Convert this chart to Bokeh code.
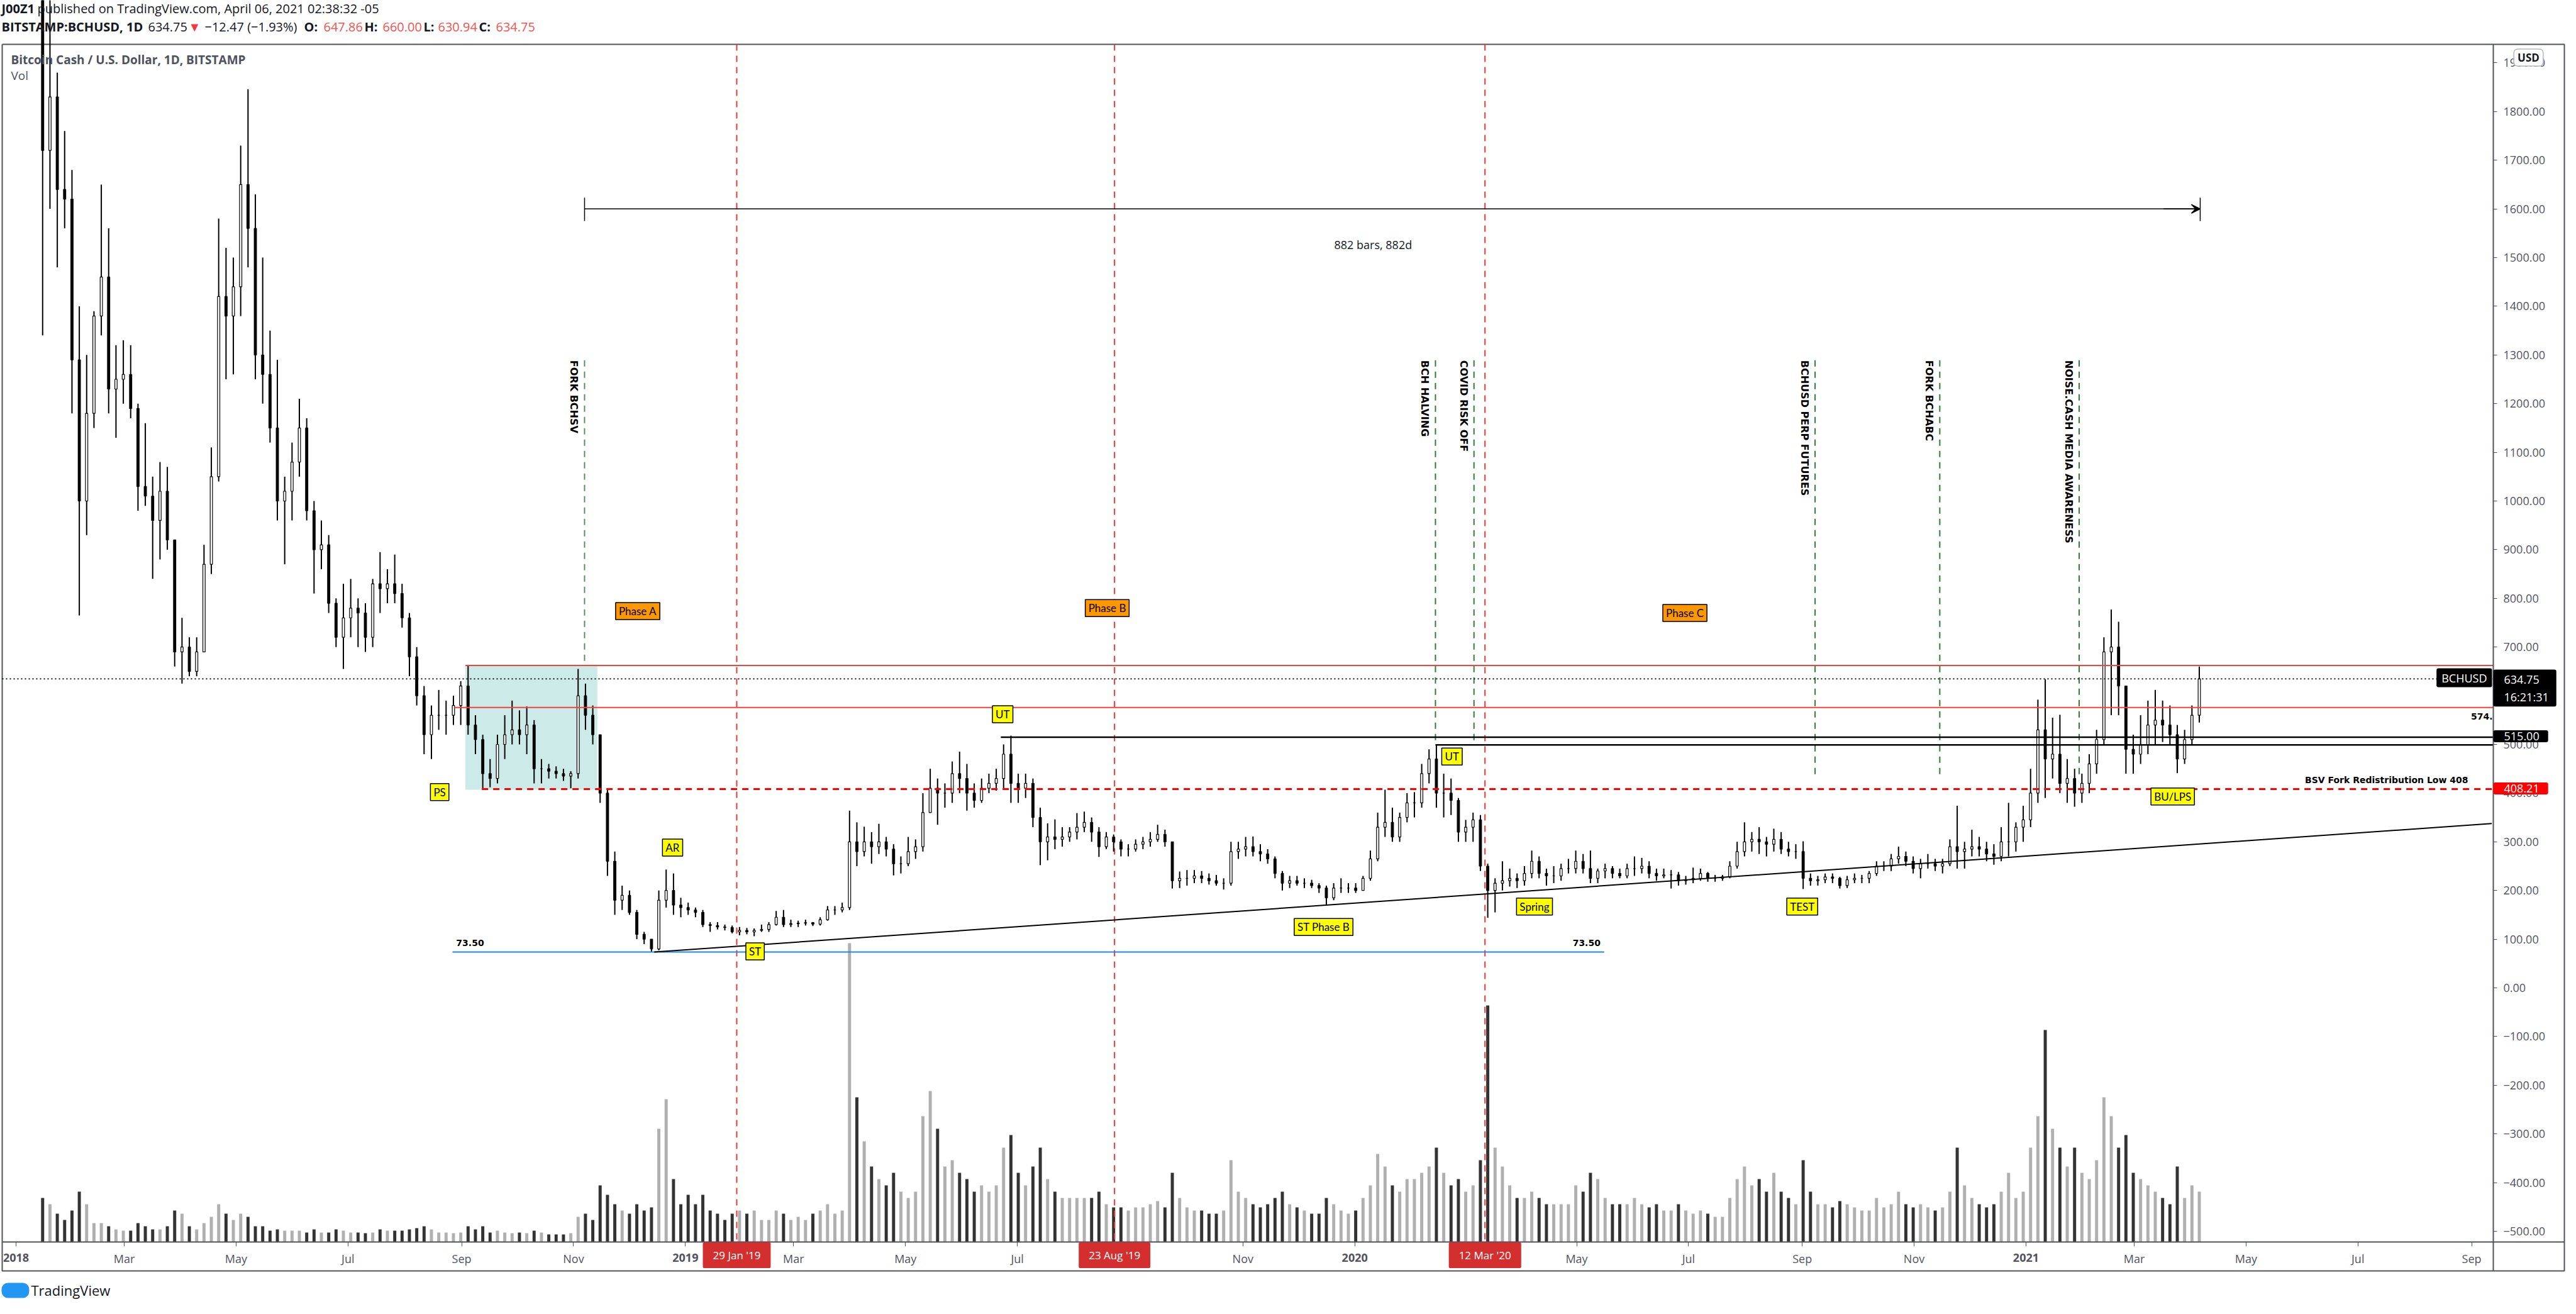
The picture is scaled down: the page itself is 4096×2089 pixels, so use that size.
import numpy as np
import pandas as pd
from bokeh.plotting import figure
from bokeh.models import (Range1d, LinearAxis, FixedTicker, CustomJSTickFormatter,
                          ColumnDataSource, Label, Arrow, VeeHead)
from bokeh.embed import file_html
from bokeh.resources import INLINE

# ---------------------------------------------------------------- data
candle_start = "2018-01-14"      # first 4-day candle (BITSTAMP:BCHUSD)
candle_days = 4
first_open = 2650.0

high = [
    2720, 2050, 1880, 1760, 1680, 1400, 1300, 1390, 1650, 1560,
    1320, 1330, 1320, 1200, 1160, 1050, 1080, 1070, 920, 760,
    720, 720, 910, 1110, 1580, 1520, 1500, 1730, 1846, 1630,
    1500, 1350, 1290, 1050, 1120, 1210, 1170, 1000, 960, 930,
    800, 830, 840, 800, 790, 840, 895, 860, 890, 830,
    770, 700, 620, 580, 612, 590, 600, 630, 663, 560,
    520, 470, 520, 560, 590, 570, 578, 550, 470, 460,
    455, 450, 445, 655, 625, 580, 520, 410, 280, 210,
    200, 160, 115, 100, 200, 243, 235, 185, 175, 165,
    160, 135, 135, 130, 128, 125, 123, 122, 130, 135,
    158, 160, 140, 138, 140, 135, 145, 168, 168, 175,
    364, 340, 331, 320, 337, 310, 295, 270, 310, 305,
    400, 450, 430, 420, 465, 485, 460, 420, 430, 440,
    450, 500, 518, 440, 440, 430, 370, 338, 346, 330,
    330, 359, 362, 350, 330, 320, 315, 305, 295, 305,
    310, 320, 335, 325, 300, 239, 242, 242, 240, 235,
    232, 225, 300, 300, 310, 311, 295, 285, 270, 240,
    230, 230, 225, 222, 215, 210, 215, 225, 215, 215,
    230, 282, 360, 407, 370, 360, 400, 402, 460, 490,
    499, 440, 430, 390, 345, 360, 355, 255, 225, 260,
    245, 235, 250, 282, 270, 245, 250, 255, 265, 282,
    275, 282, 245, 255, 250, 245, 255, 270, 267, 260,
    245, 245, 242, 238, 230, 247, 245, 238, 232, 232,
    260, 300, 340, 320, 330, 310, 327, 320, 300, 295,
    301, 235, 230, 235, 235, 228, 230, 235, 232, 240,
    260, 260, 275, 290, 280, 270, 265, 275, 265, 265,
    305, 374, 300, 325, 310, 300, 295, 330, 380, 340,
    374, 450, 592, 634, 555, 561, 470, 450, 440, 480,
    530, 720, 777, 752, 620, 520, 560, 590, 612, 590,
    580, 540, 530, 580, 660]

low = [
    1340, 1600, 1480, 1560, 1180, 765, 930, 1150, 1340, 1180,
    1130, 1200, 1170, 980, 990, 840, 880, 900, 660, 625,
    640, 640, 690, 850, 1040, 1250, 1260, 1380, 1480, 1250,
    1200, 1120, 960, 870, 960, 1050, 960, 810, 860, 770,
    700, 655, 720, 700, 690, 700, 770, 790, 790, 740,
    640, 580, 480, 470, 530, 520, 540, 540, 520, 480,
    410, 412, 420, 470, 500, 500, 480, 420, 420, 430,
    430, 425, 410, 430, 530, 500, 380, 230, 150, 160,
    150, 100, 90, 73.5, 77, 165, 150, 145, 150, 145,
    125, 115, 120, 118, 112, 108, 110, 106, 115, 115,
    128, 125, 125, 125, 128, 127, 128, 138, 150, 155,
    160, 250, 270, 255, 275, 270, 231, 235, 250, 265,
    280, 360, 335, 370, 380, 400, 364, 370, 380, 400,
    405, 410, 380, 380, 390, 330, 252, 262, 285, 290,
    300, 305, 320, 300, 269, 285, 280, 270, 270, 280,
    285, 290, 300, 290, 204, 205, 210, 215, 215, 212,
    210, 202, 210, 265, 270, 270, 260, 255, 225, 200,
    205, 210, 205, 205, 195, 170, 180, 195, 195, 195,
    200, 220, 260, 310, 300, 300, 340, 350, 370, 420,
    370, 350, 355, 300, 300, 300, 240, 144, 155, 200,
    208, 205, 210, 225, 225, 210, 215, 220, 235, 235,
    235, 215, 215, 225, 225, 225, 225, 230, 235, 225,
    220, 225, 204, 210, 212, 215, 220, 218, 218, 220,
    225, 245, 270, 280, 275, 270, 280, 275, 270, 265,
    203, 210, 210, 215, 215, 204, 205, 215, 215, 215,
    230, 240, 240, 255, 250, 235, 225, 245, 240, 235,
    250, 245, 245, 270, 270, 260, 253, 260, 270, 280,
    300, 330, 380, 390, 430, 400, 380, 372, 380, 400,
    440, 500, 560, 560, 440, 440, 460, 480, 500, 505,
    500, 441, 460, 500, 545]

close = [
    1720, 1830, 1640, 1620, 1290, 1000, 1180, 1380, 1460, 1230,
    1250, 1260, 1190, 1030, 1010, 960, 1020, 920, 690, 700,
    650, 690, 870, 1050, 1420, 1380, 1440, 1650, 1560, 1300,
    1260, 1150, 1000, 1020, 1080, 1150, 980, 900, 910, 790,
    720, 760, 780, 770, 720, 830, 820, 830, 810, 760,
    680, 600, 520, 560, 560, 560, 580, 620, 540, 510,
    440, 430, 500, 520, 530, 520, 540, 450, 450, 445,
    440, 435, 440, 600, 560, 520, 400, 260, 180, 190,
    155, 110, 100, 80, 180, 200, 170, 165, 160, 155,
    130, 128, 125, 124, 115, 118, 115, 118, 120, 130,
    145, 130, 132, 133, 134, 131, 140, 160, 160, 165,
    300, 280, 300, 290, 300, 285, 255, 255, 280, 290,
    360, 410, 400, 400, 440, 430, 400, 385, 410, 420,
    430, 480, 420, 410, 420, 350, 300, 310, 305, 310,
    320, 330, 340, 320, 290, 310, 300, 285, 285, 295,
    300, 305, 315, 300, 220, 225, 225, 230, 225, 220,
    215, 215, 280, 285, 290, 280, 275, 265, 235, 215,
    220, 215, 215, 210, 205, 185, 205, 205, 205, 200,
    225, 265, 330, 340, 310, 350, 380, 380, 440, 470,
    400, 400, 385, 320, 330, 345, 250, 200, 215, 220,
    225, 220, 235, 260, 235, 230, 230, 245, 245, 260,
    245, 225, 240, 245, 235, 230, 245, 245, 250, 235,
    230, 232, 232, 220, 222, 225, 235, 225, 225, 228,
    250, 280, 300, 305, 300, 295, 305, 285, 280, 280,
    225, 220, 222, 228, 225, 210, 222, 225, 225, 235,
    250, 250, 265, 270, 260, 245, 255, 255, 250, 255,
    290, 280, 285, 290, 285, 275, 270, 300, 300, 330,
    345, 400, 530, 470, 480, 420, 430, 400, 420, 460,
    510, 690, 700, 620, 490, 480, 500, 540, 550, 540,
    520, 470, 510, 560, 634.75]

volume = (
    [70, 60, 45, 35, 50] + [80, 60, 30, 30, 25, 20, 18] + [18, 30, 25, 20, 20, 25, 50, 45]
    + [25, 20, 30, 40, 60, 45, 35] + [45, 40, 25, 25, 18, 20, 18, 18] + [18, 15, 20, 15, 15, 20, 18]
    + [15, 15, 14, 15, 20, 18, 18] + [18, 20, 22, 25, 20, 15, 15, 14, 15] + [25, 20, 25, 15, 18, 15, 14, 15]
    + [14, 18, 15, 12, 12, 12, 14] + [40, 45, 35, 90, 75, 60, 50, 45] + [60, 50, 55, 180, 227, 100, 60]
    + [75, 60, 75, 50, 45, 35, 45, 50] + [45, 50, 35, 35, 50, 45, 35] + [40, 35, 45, 50, 60, 45, 50]
    + [475, 230, 160, 120, 100, 90, 110, 80] + [70, 80, 200, 240, 180, 120, 130, 110]
    + [100, 80, 90, 80, 90, 150, 170, 110] + [90, 120, 150, 100, 80, 70, 70, 70]
    + [70, 70, 80, 60, 55, 55, 50, 55, 55, 60, 65, 55] + [110, 70] + [55, 50, 50, 45, 45, 50] + [130, 80]
    + [70, 60, 55, 60, 70, 80, 60, 55] + [50, 45, 45, 70, 60, 50, 45]
    + [50, 70, 90, 140, 120, 90, 80, 100] + [100, 110, 120, 150, 110, 90, 100, 80, 90]
    + [130, 376, 150, 120, 90, 70] + [70, 80, 70, 60, 60, 60, 60, 90, 80] + [110, 100, 70, 60, 60, 60, 70]
    + [60, 55, 60, 50, 50, 60, 50] + [45, 50, 45, 40, 40, 70, 100, 120] + [90, 100, 80, 110, 80, 70, 60]
    + [130, 80, 60, 60, 55, 65, 60, 55, 50] + [50, 70, 55, 60, 80, 60, 55] + [60, 55, 50, 55, 80, 150, 90]
    + [70, 60, 55, 60, 80, 110, 70, 80] + [150, 200, 337, 180, 150, 120, 150, 110]
    + [100, 130, 230, 200, 150, 170, 110] + [100, 90, 80, 70, 60, 120, 70, 90] + [80]
)

price_ticks = list(range(-500, 2000, 100))
month_ticks = pd.date_range("2018-01-01", "2021-09-01", freq="2MS")
year_labels = ["2018", "2019", "2020", "2021"]

last_price = 634.75
box = dict(start="2018-09-03", end="2018-11-14", low=407, high=662)
red_levels = [(662, "2018-09-03"), (576, "2018-08-28")]
black_levels = [(515, "2019-06-22"), (499, "2020-02-14")]
bsv_low = (408.21, "2018-09-12")
sc_low = (73.5, "2018-08-27", "2020-05-16")
trend = (("2018-12-15", 73.5), ("2021-09-12", 337.4))
measure = ("2018-11-07", "2021-04-06", 1600)

red_marks = [("2019-01-29", "29 Jan '19"), ("2019-08-23", "23 Aug '19"), ("2020-03-12", "12 Mar '20")]
events = [("FORK BCHSV", "2018-11-07", 662), ("BCH HALVING", "2020-02-14", 499),
          ("COVID RISK OFF", "2020-03-06", 499), ("BCHUSD PERP FUTURES", "2020-09-08", 431),
          ("FORK BCHABC", "2020-11-15", 431), ("NOISE.CASH MEDIA AWARENESS", "2021-01-30", 431)]
event_top = 1289
phases = [("Phase A", "2018-12-06", 774), ("Phase B", "2019-08-19", 780), ("Phase C", "2020-06-29", 770)]
tags = [("PS", "2018-08-20", 402), ("AR", "2018-12-25", 288), ("ST", "2019-02-08", 75),
        ("UT", "2019-06-23", 562), ("UT", "2020-02-23", 475), ("ST Phase B", "2019-12-15", 125),
        ("Spring", "2020-04-08", 167), ("TEST", "2020-09-01", 167), ("BU/LPS", "2021-03-22", 393)]

# ---------------------------------------------------------------- layout / scales
DAY = 86400000.0
BASE = pd.Timestamp("2018-01-01")
X0, DPX = 33.0, 2.916            # page x of 2018-01-01, px per day
Y0, VPX = 1578.0, 0.774          # page y of price 0, px per dollar
W, H = 4080, 2075                # figure size (page offset 8 px)
PANE_L, PANE_R, PANE_T, PANE_B, AXIS_B, OUT_R = 11, 3972, 78, 1982, 2028, 4085


def ms(d):
    return pd.Timestamp(d).value / 1e6


def xdate(px):                   # page x -> ms
    return ms(BASE + pd.Timedelta(days=(px - X0) / DPX))


def yval(py):                    # page y -> price
    return (Y0 - py) / VPX


AX = "#50535e"
DARK = "#131722"
RED_TXT = "#f05350"
UI_FONT = "Open Sans"

n = min(len(high), len(low), len(close), len(volume))
dates = pd.date_range(candle_start, periods=n, freq=f"{candle_days}D")
xc = dates + pd.Timedelta(hours=36)
opens = [first_open] + list(close[:n - 1])
up = [c >= o for o, c in zip(opens, close[:n])]
src = ColumnDataSource(dict(
    x=xc, high=high[:n], low=low[:n],
    top=[max(o, c) for o, c in zip(opens, close[:n])],
    bot=[min(o, c) for o, c in zip(opens, close[:n])],
    fill=["white" if u else "black" for u in up],
    vol=volume[:n],
    vcol=["#b0b0b0" if u else "#333333" for u in up],
))

p = figure(width=W, height=H, output_backend="svg", toolbar_location=None,
           x_axis_type=None, y_axis_type=None,
           x_range=Range1d(xdate(8), xdate(8 + W)), y_range=Range1d(yval(8 + H), yval(8)),
           min_border=0, min_border_left=0, min_border_right=0, min_border_top=0,
           min_border_bottom=0)
p.background_fill_color = "white"
p.border_fill_color = "white"
p.outline_line_color = None
p.extra_x_ranges = {"px": Range1d(8, 8 + W)}
p.extra_y_ranges = {"px": Range1d(8 + H, 8), "vol": Range1d(PANE_B - (8 + H), PANE_B - 8)}

pane_r = xdate(PANE_R)
pane_top, pane_bot = yval(PANE_T), yval(PANE_B)

# axes (placed on the pane edges)
yax = LinearAxis(fixed_location=pane_r, bounds=(yval(AXIS_B), pane_top),
                 ticker=FixedTicker(ticks=price_ticks),
                 formatter=CustomJSTickFormatter(code="return tick.toFixed(2).replace('-', '\u2212');"),
                 major_tick_out=6, major_tick_in=0, minor_tick_line_color=None,
                 major_tick_line_color=AX, axis_line_color=AX, axis_line_width=2,
                 major_label_standoff=10, major_label_text_font=UI_FONT,
                 major_label_text_font_size="18px", major_label_text_color=AX)
p.add_layout(yax, "right")

xax = LinearAxis(fixed_location=pane_bot, bounds=(xdate(PANE_L), xdate(OUT_R)),
                 ticker=FixedTicker(ticks=[ms(d) for d in month_ticks]),
                 formatter=CustomJSTickFormatter(code="""
                     const d = new Date(tick); const m = d.getUTCMonth();
                     if (m == 0) return '';
                     return ['Jan','Feb','Mar','Apr','May','Jun','Jul','Aug','Sep','Oct','Nov','Dec'][m];"""),
                 major_tick_out=7, major_tick_in=0, minor_tick_line_color=None,
                 major_tick_line_color=AX, axis_line_color=AX, axis_line_width=2,
                 major_label_standoff=7, major_label_text_font=UI_FONT,
                 major_label_text_font_size="18px", major_label_text_color=AX)
p.add_layout(xax, "below")

# outer frame
PX = dict(x_range_name="px", y_range_name="px", line_color=AX, line_width=2)
p.line(x=[PANE_L, OUT_R, OUT_R, PANE_L, PANE_L], y=[PANE_T, PANE_T, AXIS_B, AXIS_B, PANE_T], **PX)

# box
p.quad(left=[ms(box["start"])], right=[ms(box["end"])], bottom=[box["low"]], top=[box["high"]],
       fill_color="#009688", fill_alpha=0.2, line_color=None)

# volume
p.vbar(x="x", top="vol", bottom=0, width=1.7 * DAY, fill_color="vcol", line_color=None,
       source=src, y_range_name="vol")

# red vertical markers
for d, _ in red_marks:
    p.segment(x0=[ms(d)], y0=[pane_top], x1=[ms(d)], y1=[pane_bot], line_color="#e53935",
              line_dash="10 8", line_width=2)

# event lines
for i, (txt, d, bottom) in enumerate(events):
    col = "#5f8a6a" if i == 0 else "#2e7d32"
    p.segment(x0=[ms(d)], y0=[event_top], x1=[ms(d)], y1=[bottom], line_color=col,
              line_dash="10 8", line_width=2)

# candles
p.segment(x0="x", y0="low", x1="x", y1="high", line_color="black", line_width=2, source=src)
p.vbar(x="x", top="top", bottom="bot", width=1.25 * DAY, fill_color="fill",
       line_color="black", line_width=1.2, source=src)

# horizontal levels
for lvl, d in red_levels:
    p.line(x=[ms(d), pane_r], y=[lvl, lvl], line_color="#f44336", line_width=2)
for lvl, d in black_levels:
    p.line(x=[ms(d), pane_r], y=[lvl, lvl], line_color="black", line_width=2.5)
p.line(x=[ms(bsv_low[1]), pane_r], y=[bsv_low[0]] * 2, line_color="#ff0000",
       line_width=3, line_dash="10 8")
p.line(x=[ms(sc_low[1]), ms(sc_low[2])], y=[sc_low[0]] * 2, line_color="#1e88e5", line_width=2)
p.line(x=[ms(trend[0][0]), ms(trend[1][0])], y=[trend[0][1], trend[1][1]], line_color="black",
       line_width=2)
p.line(x=[xdate(PANE_L), pane_r], y=[last_price, last_price], line_color=DARK,
       line_dash="2 4", line_width=2)

# measure
m0, m1, mv = ms(measure[0]), ms(measure[1]), measure[2]
p.line(x=[m0, m1], y=[mv, mv], line_color="black", line_width=1.5)
p.segment(x0=[m0, m1], y0=[mv - 25, mv - 25], x1=[m0, m1], y1=[mv + 23, mv + 23],
          line_color="black", line_width=1.5)
p.add_layout(Arrow(end=VeeHead(size=14, line_color="black", line_width=1.5),
                   x_start=m1 - 20 * DAY, y_start=mv, x_end=m1, y_end=mv,
                   line_color="black", line_width=1.5))


def lab(text, x, y, xr="default", yr="default", **kw):
    p.add_layout(Label(x=x, y=y, text=text, x_range_name=xr, y_range_name=yr, **kw))


lab("882 bars, 882d", ms("2020-01-11"), 1526, text_align="center", text_baseline="middle",
    text_font=UI_FONT, text_font_size="18px", text_color=DARK)

for txt, d, v in phases:
    lab(txt, ms(d), v, text_align="center", text_baseline="middle", text_font="Lato",
        text_font_size="17px", text_color="black", background_fill_color="#ff9800",
        border_line_color="black", border_line_width=1.5, padding=(5, 5, 3, 3))
for txt, d, v in tags:
    lab(txt, ms(d), v, text_align="center", text_baseline="middle", text_font="Lato",
        text_font_size="17px", text_color="black", background_fill_color="#ffff00",
        border_line_color="black", border_line_width=1.5, padding=(5, 5, 3, 3))
for txt, d, _ in events:
    lab(txt, ms(d), event_top, angle=-np.pi / 2, text_align="left", text_baseline="top",
        x_offset=-7, text_font="DejaVu Sans", text_font_style="bold", text_font_size="16px",
        text_color="black")

BOLD = dict(text_font="DejaVu Sans", text_font_style="bold", text_font_size="14px", text_color="black")
lab("BSV Fork Redistribution Low 408", pane_r, 427.5, text_align="right", text_baseline="middle",
    x_offset=-40, **BOLD)
lab("574.", pane_r, 558, text_align="right", text_baseline="middle", x_offset=-1, **BOLD)
lab("73.50", ms("2018-08-29"), 92, text_align="left", text_baseline="middle", **BOLD)
lab("73.50", ms("2020-05-14"), 92, text_align="right", text_baseline="middle", **BOLD)

# badges on the price scale
BADGE = dict(text_font=UI_FONT, text_font_size="18px", text_color="white", border_radius=3)
lab("634.75\n16:21:31", PANE_R, 1072, xr="px", yr="px", text_align="left", text_baseline="top",
    background_fill_color="black", padding=(17, 12, 3, 3), **BADGE)
lab("BCHUSD", PANE_R - 2, 1085, xr="px", yr="px", text_align="right", text_baseline="middle",
    background_fill_color="black", padding=(8, 8, 3, 3), **BADGE)
lab("515.00", PANE_R, 1178, xr="px", yr="px", text_align="left", text_baseline="middle",
    background_fill_color="black", padding=(17, 14, 3, 3), **BADGE)
lab("408.21", PANE_R, 1261, xr="px", yr="px", text_align="left", text_baseline="middle",
    background_fill_color="#ff0000", padding=(17, 14, 3, 3), **BADGE)
lab("USD", 4028, 99, xr="px", yr="px", text_align="center", text_baseline="middle",
    text_font=UI_FONT, text_font_style="bold", text_font_size="17px", text_color=DARK,
    background_fill_color="white", border_line_color="#b2b5be", border_line_width=1.5,
    border_radius=6, padding=(6, 6, 2, 2))

# badges / years on the time scale
for d, txt in red_marks:
    lab(txt, ms(d), 2003, yr="px", text_align="center", text_baseline="middle",
        text_font=UI_FONT, text_font_size="17px", text_color="white",
        background_fill_color="#d32f2f", border_radius=2, padding=(16, 16, 9, 9))
for y in year_labels:
    lab(y, ms(f"{y}-01-01"), 2007, yr="px", text_align="center", text_baseline="middle",
        text_font=UI_FONT, text_font_style="bold", text_font_size="18px", text_color=AX)

# header
H1, H2 = 21, 50
HF = dict(text_font=UI_FONT, text_font_size="20px", text_baseline="middle", text_align="left")
for txt, x0, y0, style, col in [
    ("J00Z1", 10, H1, "bold", DARK),
    ("published on TradingView.com, April 06, 2021 02:38:32 -05", 67, H1, "normal", DARK),
    ("BITSTAMP:BCHUSD, 1D", 10, H2, "bold", DARK),
    ("634.75", 243, H2, "normal", DARK),
    ("\u25bc", 307, H2, "normal", "#f23645"),
    ("\u221212.47 (\u22121.93%)", 333, H2, "normal", DARK),
    ("O:", 491, H2, "bold", DARK), ("647.86", 522, H2, "normal", RED_TXT),
    ("H:", 587, H2, "bold", DARK), ("660.00", 616, H2, "normal", RED_TXT),
    ("L:", 681, H2, "bold", DARK), ("630.94", 704, H2, "normal", RED_TXT),
    ("C:", 769, H2, "bold", DARK), ("634.75", 796, H2, "normal", RED_TXT),
]:
    lab(txt, x0, y0, xr="px", yr="px", text_font_style=style, text_color=col, **HF)

lab("Bitcoin Cash / U.S. Dollar, 1D, BITSTAMP", 25, 102, xr="px", yr="px",
    text_font=UI_FONT, text_font_style="bold", text_font_size="19px", text_color="#4c525e",
    text_align="left", text_baseline="middle")
lab("Vol", 25, 127, xr="px", yr="px", text_font=UI_FONT, text_font_size="19px",
    text_color="#4c525e", text_align="left", text_baseline="middle")

# footer logo
lab("\u00a0", 10, 2047, xr="px", yr="px", text_align="left", text_baseline="top",
    text_font_size="14px", background_fill_color="#2196f3", border_radius=10, padding=(20, 20, 4, 4))
lab("TradingView", 57, 2058, xr="px", yr="px", text_align="left", text_baseline="middle",
    text_font=UI_FONT, text_font_size="22px", text_color=DARK)

open("out.html", "w").write(file_html(p, INLINE))
